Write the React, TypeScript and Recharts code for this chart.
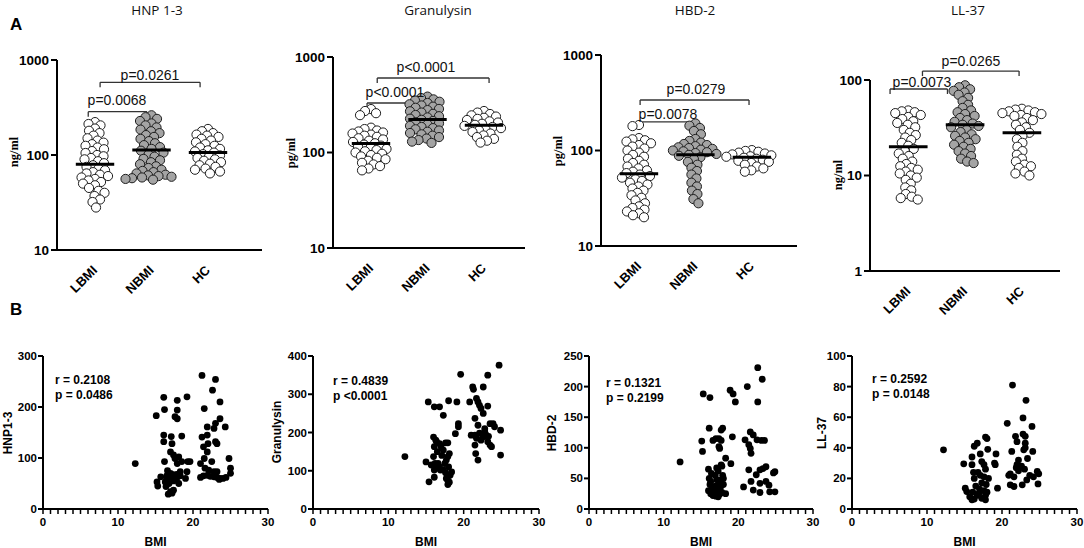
import React from 'react';
import { ScatterChart, Scatter, XAxis, YAxis, ReferenceLine } from 'recharts';

const W = 1084;
const H = 548;
const SANS = "'Liberation Sans', Arial, sans-serif";
const SERIF = "'Liberation Serif', 'Times New Roman', serif";
const TITLE_FONT = "'Open Sans', sans-serif";

// ---------- Panel A data (values per group) ----------
const GROUPS = ['LBMI', 'NBMI', 'HC'];

const hnpLBMI = [222, 212, 205, 190, 180, 170, 160, 150, 142, 135, 130, 125, 120, 115, 110, 105, 100, 97, 93, 90, 86, 82, 78, 75, 72, 69, 66, 64, 62, 60, 58, 56, 54, 52, 50, 48, 45, 42, 40, 37, 34, 32, 28];
const hnpNBMI = [262, 250, 240, 228, 215, 205, 195, 185, 178, 170, 162, 155, 148, 140, 133, 127, 121, 116, 111, 106, 101, 96, 91, 88, 84, 80, 76, 73, 70, 68, 66, 64, 62, 61, 60, 59, 58, 57, 56, 55];
const hnpHC = [188, 178, 170, 164, 160, 155, 148, 142, 136, 130, 125, 120, 116, 112, 109, 106, 102, 99, 96, 93, 90, 87, 84, 81, 78, 75, 72, 70, 67, 64];
const hnpMeans = [80, 113, 106];

const granLBMI = [285, 272, 258, 246, 182, 176, 170, 166, 162, 158, 154, 150, 146, 141, 137, 133, 129, 125, 121, 118, 115, 112, 109, 106, 103, 100, 97, 94, 91, 88, 85, 82, 78, 75, 72, 68, 65];
const granNBMI = [385, 372, 360, 350, 340, 330, 320, 311, 302, 294, 286, 278, 270, 262, 254, 247, 240, 233, 226, 220, 214, 208, 202, 196, 190, 185, 180, 175, 170, 165, 160, 155, 150, 145, 140, 135, 130, 126];
const granHC = [272, 262, 253, 245, 238, 231, 225, 219, 212, 206, 200, 195, 190, 185, 180, 175, 170, 164, 158, 151, 145, 139, 133, 127];
const granMeans = [124, 221, 193];

const hbdLBMI = [185, 180, 135, 131, 128, 124, 119, 114, 110, 105, 100, 95, 90, 86, 82, 78, 74, 71, 68, 65, 62, 60, 58, 56, 54, 52, 50, 48, 46, 44, 42, 40, 38, 36, 34, 32, 30, 28, 26, 25, 24, 23, 22, 21, 20];
const hbdNBMI = [192, 182, 172, 160, 148, 132, 126, 121, 117, 114, 111, 108, 106, 104, 102, 100, 98, 96, 94, 92, 90, 88, 85, 81, 76, 71, 66, 61, 56, 51, 46, 42, 38, 35, 31, 28];
const hbdHC = [101, 99, 97, 95, 93, 91, 89, 87, 86, 84, 82, 80, 78, 76, 74, 71, 68, 65, 62, 60];
const hbdMeans = [57, 90, 85];

const llLBMI = [48, 47, 46, 45, 43, 41, 39, 37, 35.5, 34, 32, 30, 28, 26.5, 25, 23.5, 22, 20.5, 19, 18, 17, 16, 15, 14, 13.2, 12.5, 12, 11.5, 11, 10.5, 10, 9.5, 9, 8.2, 7.5, 7, 6.4, 6, 5.8, 5.6];
const llNBMI = [88, 84, 80, 77, 74, 70, 65, 60, 55, 51, 48, 46, 44, 42, 40, 38, 36.5, 35, 34, 33, 32, 30, 28.5, 27, 26, 25, 24, 23, 22, 21, 20, 19, 18, 17, 16, 15, 14, 13.5];
const llHC = [50, 49, 48, 47, 46, 45, 44, 43, 42, 40, 38, 36, 34, 32, 30, 28, 26, 24, 22, 20, 18, 16.5, 15, 14, 13, 12.5, 12, 11, 10.5, 10];
const llMeans = [20, 34, 28];

// significance brackets: [x1, x2, y] in data units, with label
const hnpBrackets: [number, number, number, string][] = [[0.09, 1.86, 582, 'p=0.0261'], [-0.12, 0.92, 286, 'p=0.0068']];
const granBrackets: [number, number, number, string][] = [[0.11, 2.09, 603, 'p<0.0001'], [-0.07, 0.85, 330, 'p<0.0001']];
const hbdBrackets: [number, number, number, string][] = [[0.02, 1.95, 338, 'p=0.0279'], [0, 0.99, 199, 'p=0.0078']];
const llBrackets: [number, number, number, string][] = [[0.25, 1.95, 124, 'p=0.0265'], [-0.32, 0.69, 80.5, 'p=0.0073']];

// ---------- Panel B data: [BMI, value] ----------
const hnpCorr: [number, number][] = [
  [12.3, 89], [15.1, 183], [16.1, 219], [16.2, 195], [16.1, 145], [16.1, 132], [16.2, 93], [15.2, 53], [15.3, 45], [15.7, 63],
  [16.3, 53], [16.5, 60], [16.8, 50], [16.4, 44], [17.0, 34], [17.2, 31], [17.4, 37], [16.7, 29], [17.1, 142], [17.2, 128],
  [17.0, 112], [17.4, 106], [17.6, 99], [17.9, 89], [17.6, 181], [17.9, 177], [17.9, 194], [17.9, 213], [18.5, 143], [19.2, 220],
  [18.1, 102], [18.5, 93], [19.3, 93], [19.6, 93], [18.3, 73], [19.2, 73], [19.0, 60], [18.1, 50], [17.4, 55], [17.8, 58],
  [17.6, 65], [18.3, 65], [16.9, 62], [16.5, 65], [17.2, 68], [16.6, 75], [17.0, 70], [17.8, 68],
  [21.2, 262], [21.5, 197], [22.6, 233], [23.0, 254], [23.6, 210], [21.9, 161], [22.8, 158], [23.0, 168], [23.6, 177], [24.3, 161],
  [21.2, 141], [21.9, 145], [22.0, 128], [23.0, 132], [23.2, 128], [21.4, 122], [21.9, 112], [21.0, 89], [21.5, 99], [22.5, 93],
  [24.8, 99], [22.1, 76], [22.8, 73], [25.0, 80], [25.0, 70], [21.0, 62], [21.4, 65], [21.9, 66], [22.3, 64], [22.8, 63],
  [23.2, 62], [23.6, 60], [24.0, 60], [24.4, 62], [23.2, 73], [21.6, 80], [23.5, 58],
];
const granCorr: [number, number][] = [
  [12.2, 137], [15.0, 123], [15.3, 280], [16.1, 267], [16.8, 267], [17.3, 245], [18.0, 283], [19.1, 280], [19.6, 352], [19.3, 223],
  [19.3, 215], [18.9, 197], [15.4, 71], [16.1, 83], [16.0, 188], [16.3, 180], [16.1, 163], [16.4, 176], [16.8, 171], [17.0, 163],
  [17.3, 154], [17.6, 173], [17.9, 173], [16.0, 137], [16.2, 119], [16.4, 110], [16.6, 119], [16.8, 110], [16.9, 102], [17.3, 102],
  [17.5, 119], [17.7, 128], [17.9, 137], [18.1, 145], [17.7, 80], [17.9, 75], [18.1, 70], [17.9, 64], [18.2, 88], [18.4, 97],
  [15.7, 115], [16.1, 102], [17.1, 140], [16.5, 150], [17.6, 95], [18.0, 110],
  [24.7, 376], [23.2, 350], [22.6, 319], [21.2, 319], [21.3, 313], [20.8, 280], [21.7, 289], [21.9, 280], [22.1, 271], [22.3, 263],
  [23.2, 269], [22.6, 250], [21.5, 237], [21.9, 219], [22.8, 210], [23.5, 223], [23.9, 223], [24.1, 215], [24.9, 206], [21.0, 193],
  [21.5, 193], [21.7, 185], [22.1, 198], [22.8, 202], [23.0, 193], [23.2, 176], [23.5, 167], [23.7, 163], [21.5, 167], [21.6, 145],
  [21.9, 128], [24.9, 141], [22.6, 189], [23.3, 190], [22.3, 180],
];
const hbdCorr: [number, number][] = [
  [12.2, 77], [15.3, 188], [16.2, 182], [18.9, 194], [19.3, 188], [19.6, 175], [21.2, 200], [22.6, 231], [23.2, 212], [22.6, 175],
  [15.1, 111], [15.2, 94], [16.1, 132], [16.6, 112], [17.0, 115], [17.4, 115], [17.7, 112], [17.9, 132], [17.7, 129], [17.4, 102],
  [17.5, 99], [19.2, 118], [18.3, 83], [19.0, 74], [20.9, 113], [21.6, 126], [22.0, 121], [22.5, 113], [23.1, 112], [23.5, 112],
  [21.4, 105], [21.6, 99], [21.7, 91], [21.4, 64], [22.4, 56], [22.9, 64], [23.3, 66], [23.7, 69], [24.7, 59], [24.9, 61],
  [20.7, 36], [21.7, 45], [22.0, 31], [22.9, 27], [23.7, 45], [24.1, 39], [24.2, 28], [24.9, 28], [22.9, 42],
  [16.0, 65], [17.1, 67], [17.3, 62], [17.7, 72], [17.8, 70], [17.9, 55], [18.0, 50], [16.1, 50], [16.3, 45], [16.2, 40],
  [16.5, 35], [16.0, 30], [16.3, 25], [16.6, 22], [17.0, 21], [17.3, 20], [17.5, 24], [17.8, 27], [17.2, 30], [16.8, 33],
  [17.0, 38], [17.4, 42], [17.6, 47], [16.9, 55], [16.4, 58], [18.3, 25], [17.1, 48], [16.7, 28], [17.6, 35], [18.0, 40],
];
const llCorr: [number, number][] = [
  [12.2, 38.7], [14.9, 29.5], [15.1, 13.6], [15.3, 11.4], [16.0, 34], [16.3, 41], [16.7, 43], [16.0, 29], [16.2, 24], [16.3, 20],
  [15.7, 8], [16.0, 6], [16.3, 6.5], [16.7, 9], [16.9, 10], [17.1, 36], [17.3, 31], [17.6, 29], [17.8, 26], [17.6, 21],
  [17.8, 47], [18.0, 46], [18.1, 39], [17.3, 7], [17.8, 9], [17.8, 6], [18.0, 11], [19.2, 36], [19.0, 30], [19.1, 29],
  [19.4, 13.6], [16.5, 15], [17.0, 13], [17.3, 17], [17.6, 12], [18.2, 20], [16.8, 24], [17.1, 22], [17.9, 16], [16.1, 11],
  [20.7, 56], [21.4, 81], [23.2, 71], [22.8, 59.5], [21.8, 47.5], [22.0, 44], [22.8, 49], [23.1, 47.5], [23.1, 43], [24.0, 54],
  [24.1, 37.6], [21.3, 37.6], [22.9, 38.7], [23.1, 40], [22.2, 32], [23.4, 33], [21.1, 23], [21.6, 21], [22.0, 29], [22.2, 25],
  [22.6, 28], [23.0, 26], [24.7, 24.5], [24.9, 23], [24.8, 16.4], [23.3, 19], [24.2, 21], [21.1, 15.8], [21.6, 14.7], [22.7, 15.8],
  [21.9, 27], [23.7, 22], [20.9, 22],
];

const BMI_TICKS = Array.from({ length: 31 }, (_, i) => i);

// ---------- layout ----------
const swarmPanels = [
  { left: 57, right: 262, top: 60, bottom: 250, yMin: 10, yMax: 1000, ticks: [10, 100, 1000], xMax: 2.956, groups: [hnpLBMI, hnpNBMI, hnpHC], means: hnpMeans, brackets: hnpBrackets },
  { left: 333, right: 525, top: 57, bottom: 248, yMin: 10, yMax: 1000, ticks: [10, 100, 1000], xMax: 2.726, groups: [granLBMI, granNBMI, granHC], means: granMeans, brackets: granBrackets },
  { left: 601, right: 797, top: 55, bottom: 246, yMin: 10, yMax: 1000, ticks: [10, 100, 1000], xMax: 2.8, groups: [hbdLBMI, hbdNBMI, hbdHC], means: hbdMeans, brackets: hbdBrackets },
  { left: 870, right: 1060, top: 80, bottom: 271, yMin: 1, yMax: 100, ticks: [1, 10, 100], xMax: 2.67, groups: [llLBMI, llNBMI, llHC], means: llMeans, brackets: llBrackets },
];
const X_MIN = -0.673;

const corrPanels = [
  { left: 43, right: 268, top: 356, bottom: 509, yMax: 300, yTicks: [0, 100, 200, 300], data: hnpCorr },
  { left: 313, right: 539, top: 356, bottom: 509, yMax: 400, yTicks: [0, 100, 200, 300, 400], data: granCorr },
  { left: 589, right: 813, top: 356, bottom: 509, yMax: 250, yTicks: [0, 50, 100, 150, 200, 250], data: hbdCorr },
  { left: 852, right: 1077, top: 356, bottom: 509, yMax: 100, yTicks: [0, 20, 40, 60, 80, 100], data: llCorr },
];

function swarm(values: number[], center: number, toPxY: (v: number) => number, pxPerX: number, minDist: number) {
  const placed: { x: number; y: number }[] = [];
  const out: { x: number; y: number }[] = [];
  const sorted = [...values].sort((a, b) => b - a);
  for (const v of sorted) {
    const py = toPxY(v);
    let dx = 0;
    for (let k = 0; k < 400; k++) {
      const cand = (k % 2 === 1 ? -1 : 1) * Math.ceil(k / 2) * 0.5;
      if (placed.every((p) => (p.x - cand) ** 2 + (p.y - py) ** 2 >= minDist * minDist)) {
        dx = cand;
        break;
      }
    }
    placed.push({ x: dx, y: py });
    out.push({ x: center + dx / pxPerX, y: v });
  }
  return out;
}

const axisStyle = { stroke: '#000', strokeWidth: 2 };
const abs: React.CSSProperties = { position: 'absolute', left: 0, top: 0 };

function SwarmPanel({ p }: { p: (typeof swarmPanels)[number] }) {
  const pxPerX = (p.right - p.left) / (p.xMax - X_MIN);
  const lr = Math.log10(p.yMax) - Math.log10(p.yMin);
  const toPxY = (v: number) => ((Math.log10(p.yMax) - Math.log10(v)) / lr) * (p.bottom - p.top);
  const series = p.groups.map((vals, i) => swarm(vals, i, toPxY, pxPerX, 6.3));
  const yAxisW = 52;
  const tickDrop = Math.pow(10, (-5 / (p.bottom - p.top)) * lr);
  return (
    <div style={abs}>
      <ScatterChart width={W} height={H} margin={{ top: p.top, left: p.left - yAxisW, right: W - p.right, bottom: H - p.bottom - 40 }}>
        <XAxis
          type="number"
          dataKey="x"
          domain={[X_MIN, p.xMax]}
          ticks={[0, 1, 2]}
          interval={0}
          allowDataOverflow
          height={40}
          axisLine={axisStyle}
          tickLine={axisStyle}
          tickSize={6}
          tick={false}
        />
        <YAxis
          type="number"
          dataKey="y"
          scale="log"
          domain={[p.yMin, p.yMax]}
          ticks={p.ticks}
          interval={0}
          allowDataOverflow
          width={yAxisW}
          axisLine={axisStyle}
          tickLine={axisStyle}
          tickSize={6}
          tickMargin={2}
          tick={{ fill: '#000', fontSize: 13.5, fontWeight: 700, fontFamily: SANS }}
        />
        {series.map((d, i) => (
          <Scatter
            key={i}
            data={d}
            isAnimationActive={false}
            shape={(s: any) => <circle cx={s.cx} cy={s.cy} r={4.6} fill={i === 1 ? '#a4a4a4' : '#ffffff'} stroke="#1e1e1e" strokeWidth={1} />}
          />
        ))}
        {p.means.map((m, i) => (
          <ReferenceLine key={'m' + i} segment={[{ x: i - 0.34, y: m }, { x: i + 0.34, y: m }]} stroke="#000" strokeWidth={3} ifOverflow="visible" zIndex={1500} />
        ))}
        {p.brackets.map(([x1, x2, y], i) => (
          <React.Fragment key={'b' + i}>
            <ReferenceLine segment={[{ x: x1, y }, { x: x2, y }]} stroke="#333" strokeWidth={1.3} ifOverflow="visible" />
            <ReferenceLine segment={[{ x: x1, y }, { x: x1, y: y * tickDrop }]} stroke="#333" strokeWidth={1.3} ifOverflow="visible" />
            <ReferenceLine segment={[{ x: x2, y }, { x: x2, y: y * tickDrop }]} stroke="#333" strokeWidth={1.3} ifOverflow="visible" />
          </React.Fragment>
        ))}
      </ScatterChart>
    </div>
  );
}

const makeBmiTick = (axisY: number) => (props: any) => {
  const { x, payload } = props;
  if (payload.value % 10 !== 0) return <g />;
  return (
    <text x={x} y={axisY + 17} textAnchor="middle" fontFamily={SANS} fontWeight={700} fontSize={11.5} fill="#000">
      {payload.value}
    </text>
  );
};

function CorrPanel({ p }: { p: (typeof corrPanels)[number] }) {
  const yAxisW = 40;
  const data = p.data.map(([x, y]) => ({ x, y }));
  return (
    <div style={abs}>
      <ScatterChart width={W} height={H} margin={{ top: p.top, left: p.left - yAxisW, right: W - p.right, bottom: H - p.bottom - 30 }}>
        <XAxis
          type="number"
          dataKey="x"
          domain={[0, 30]}
          ticks={BMI_TICKS}
          interval={0}
          allowDataOverflow
          height={30}
          axisLine={axisStyle}
          tickLine={{ stroke: '#000', strokeWidth: 1.5 }}
          tickSize={5}
          tick={makeBmiTick(p.bottom)}
        />
        <YAxis
          type="number"
          dataKey="y"
          domain={[0, p.yMax]}
          ticks={p.yTicks}
          interval={0}
          allowDataOverflow
          width={yAxisW}
          axisLine={axisStyle}
          tickLine={axisStyle}
          tickSize={5}
          tickMargin={1}
          tick={{ fill: '#000', fontSize: 11.5, fontWeight: 700, fontFamily: SANS }}
        />
        <Scatter data={data} isAnimationActive={false} shape={(s: any) => <circle cx={s.cx} cy={s.cy} r={3.4} fill="#000" />} />
      </ScatterChart>
    </div>
  );
}

const titles = [
  { text: 'HNP 1-3', x: 157, y: 15 },
  { text: 'Granulysin', x: 438, y: 15 },
  { text: 'HBD-2', x: 695, y: 15 },
  { text: 'LL-37', x: 968, y: 15 },
];
const topYLabels = [
  { text: 'ng/ml', x: 14, y: 152 },
  { text: 'pg/ml', x: 291, y: 153 },
  { text: 'pg/ml', x: 558, y: 151 },
  { text: 'ng/ml', x: 838, y: 175 },
];
const pLabelPos = [
  [[150, 80], [117, 105]],
  [[426, 72], [395, 97]],
  [[696, 94], [668, 119]],
  [[971, 66], [922, 87]],
];
const bottomYLabels = [
  { text: 'HNP1-3', x: 8, y: 433 },
  { text: 'Granulysin', x: 277, y: 432 },
  { text: 'HBD-2', x: 552, y: 433 },
  { text: 'LL-37', x: 822, y: 433 },
];
const corrStats = [
  { r: 'r = 0.2108', p: 'p = 0.0486', x: 55, y: 384 },
  { r: 'r = 0.4839', p: 'p <0.0001', x: 333, y: 385 },
  { r: 'r = 0.1321', p: 'p = 0.2199', x: 606, y: 387 },
  { r: 'r = 0.2592', p: 'p = 0.0148', x: 872, y: 383 },
];

const C = Math.SQRT1_2;

function Overlay() {
  return (
    <svg width={W} height={H} style={{ ...abs, pointerEvents: 'none' }}>
      <text x={10} y={30} fontFamily={SANS} fontWeight={700} fontSize={17}>A</text>
      <text x={10} y={315} fontFamily={SANS} fontWeight={700} fontSize={17}>B</text>
      {titles.map((t) => (
        <text key={t.text} x={t.x} y={t.y} textAnchor="middle" fontFamily={TITLE_FONT} fontSize={13.5} fill="#111">{t.text}</text>
      ))}
      {topYLabels.map((t, i) => (
        <text key={i} x={t.x} y={t.y} textAnchor="middle" dominantBaseline="central" transform={`rotate(-90, ${t.x}, ${t.y})`} fontFamily={SERIF} fontWeight={700} fontSize={12.5}>{t.text}</text>
      ))}
      {swarmPanels.map((p) => {
        const pxPerX = (p.right - p.left) / (p.xMax - X_MIN);
        return GROUPS.map((g, i) => {
          const tx = p.left + (i - X_MIN) * pxPerX + 3;
          const ty = p.bottom + 21;
          return (
            <g key={p.left + g} transform={`matrix(${C} ${-C} ${C} ${C} ${tx} ${ty})`}>
              <text x={0} y={0} textAnchor="end" fontFamily={SANS} fontWeight={700} fontSize={13} fill="#000">
                {g}
              </text>
            </g>
          );
        });
      })}
      {swarmPanels.map((p, i) =>
        p.brackets.map((b, j) => (
          <text key={i + '-' + j} x={pLabelPos[i][j][0]} y={pLabelPos[i][j][1]} textAnchor="middle" fontFamily={SANS} fontSize={14} fill="#111">{b[3]}</text>
        ))
      )}
      {bottomYLabels.map((t, i) => (
        <text key={i} x={t.x} y={t.y} textAnchor="middle" dominantBaseline="central" transform={`rotate(-90, ${t.x}, ${t.y})`} fontFamily={SANS} fontWeight={700} fontSize={12}>{t.text}</text>
      ))}
      {corrPanels.map((p, i) => (
        <text key={'bmi' + i} x={(p.left + p.right) / 2} y={546} textAnchor="middle" fontFamily={SANS} fontWeight={700} fontSize={12}>BMI</text>
      ))}
      {corrStats.map((s, i) => (
        <g key={'s' + i}>
          <text x={s.x} y={s.y} fontFamily={SANS} fontWeight={700} fontSize={12}>{s.r}</text>
          <text x={s.x} y={s.y + 15} fontFamily={SANS} fontWeight={700} fontSize={12}>{s.p}</text>
        </g>
      ))}
    </svg>
  );
}

export default function App() {
  return (
    <div style={{ position: 'absolute', left: 0, top: 0, width: W, height: H, background: '#fff', overflow: 'hidden' }}>
      {swarmPanels.map((p, i) => (
        <SwarmPanel key={i} p={p} />
      ))}
      {corrPanels.map((p, i) => (
        <CorrPanel key={i} p={p} />
      ))}
      <Overlay />
    </div>
  );
}
